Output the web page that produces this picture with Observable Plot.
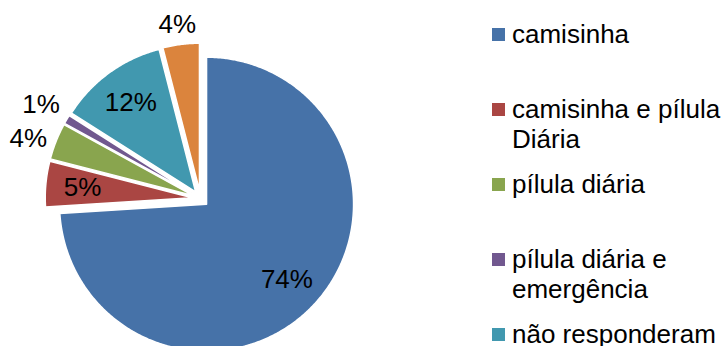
<!DOCTYPE html>
<html>
<head>
<meta charset="utf-8">
<script src="https://cdn.jsdelivr.net/npm/d3@7"></script>
<script src="https://cdn.jsdelivr.net/npm/@observablehq/plot@0.6"></script>
<style>
  html, body { margin: 0; padding: 0; background: #fff; }
  #wrap { position: relative; width: 728px; height: 346px; overflow: hidden; font-family: "Liberation Sans", Arial, sans-serif; }
  #legend .item { position: absolute; left: 492px; width: 236px; font-size: 26px; line-height: 30px; color: #000; }
  #legend .sw { position: absolute; left: 0; top: 9px; width: 13px; height: 13px; }
  #legend .tx { position: absolute; left: 20px; width: 216px; }
</style>
</head>
<body>
<div id="wrap"><div id="legend"></div></div>
<script>
// ---- data ----
const categories = ["camisinha", "camisinha e pílula Diária", "pílula diária", "pílula diária e emergência", "não responderam", "outros"];
const percents = [74, 5, 4, 1, 12, 4];
const colors = ["#4672A8", "#AA4643", "#89A54E", "#71588F", "#4198AF", "#DB843D"];

// ---- geometry derived from data (unit circle, angle clockwise from top) ----
const R = 147;            // pixel radius
const explode = 8.3 / R;  // explosion in radius units
const total = d3.sum(percents);
let acc = 0;
const slices = categories.map((cat, i) => {
  const a0 = acc / total * 2 * Math.PI;
  acc += percents[i];
  const a1 = acc / total * 2 * Math.PI;
  const mid = (a0 + a1) / 2;
  return {cat, value: percents[i], a0, a1, mid, ex: explode * Math.sin(mid), ey: explode * Math.cos(mid)};
});

const pts = [];
for (const s of slices) {
  pts.push({cat: s.cat, x: s.ex, y: s.ey});
  const n = Math.max(2, Math.ceil((s.a1 - s.a0) / (Math.PI / 360)));
  for (let k = 0; k <= n; k++) {
    const a = s.a0 + (s.a1 - s.a0) * k / n;
    pts.push({cat: s.cat, x: s.ex + Math.sin(a), y: s.ey + Math.cos(a)});
  }
}

// data labels: inside for large slices, outside (box touching) for small ones
const labels = slices.map(s => {
  const dx = Math.sin(s.mid), dy = Math.cos(s.mid);
  if (s.value >= 5) {
    const d = 0.75 + explode;
    return {text: s.value + "%", x: d * dx, y: d * dy, outside: false};
  } else {
    const d = 1 + explode + 8 / R;
    return {text: s.value + "%", x: d * dx + dx * 22 / R, y: d * dy + dy * 12 / R, outside: true};
  }
});
// simple de-overlap of outside labels (vertical push apart)
const minGap = 34 / R, minDX = 40 / R;
const outs = labels.filter(l => l.outside);
for (let it = 0; it < 5; it++) {
  for (let i = 0; i < outs.length; i++) for (let j = i + 1; j < outs.length; j++) {
    const a = outs[i], b = outs[j];
    if (Math.abs(a.x - b.x) < minDX && Math.abs(a.y - b.y) < minGap) {
      const push = (minGap - Math.abs(a.y - b.y)) / 2;
      if (a.y >= b.y) { a.y += push; b.y -= push; } else { a.y -= push; b.y += push; }
    }
  }
}

const cx = 200, cy = 198;
const chart = Plot.plot({
  width: 728,
  height: 346,
  margin: 0,
  x: {domain: [-1, 1], range: [cx - R, cx + R], axis: null},
  y: {domain: [-1, 1], range: [cy + R, cy - R], axis: null},
  color: {domain: categories, range: colors},
  style: {fontFamily: "'Liberation Sans', Arial, sans-serif", background: "transparent"},
  marks: [
    Plot.line(pts, {x: "x", y: "y", z: "cat", fill: "cat", stroke: "white", strokeWidth: 1.5, curve: "linear-closed"}),
    Plot.text(labels, {x: "x", y: "y", text: "text", fontSize: 26, fill: "#000"})
  ]
});
const wrap = document.getElementById("wrap");
wrap.insertBefore(chart, wrap.firstChild);

// ---- legend ----
const legend = document.getElementById("legend");
categories.forEach((c, i) => {
  const it = document.createElement("div");
  it.className = "item";
  it.style.top = (19 + i * 75) + "px";
  const sw = document.createElement("div");
  sw.className = "sw";
  sw.style.background = colors[i];
  const tx = document.createElement("div");
  tx.className = "tx";
  tx.textContent = c;
  it.appendChild(sw);
  it.appendChild(tx);
  legend.appendChild(it);
});
</script>
</body>
</html>
